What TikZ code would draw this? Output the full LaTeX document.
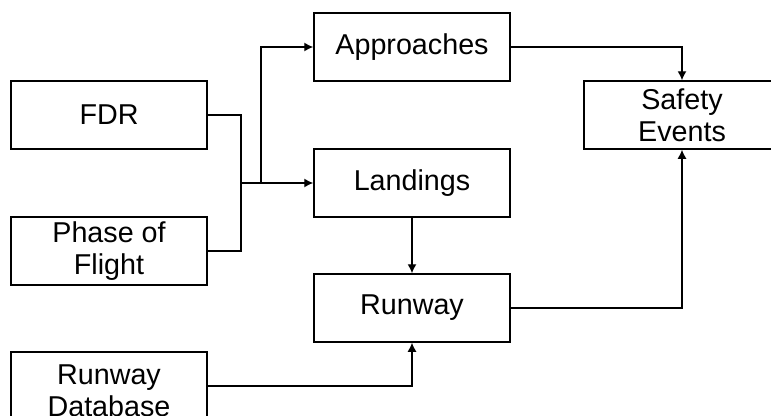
\documentclass[tikz,border=0pt]{standalone}
\usepackage{fontspec}
\setmainfont{Liberation Sans}
\usepackage{tikz}
\usetikzlibrary{arrows.meta}

\tikzset{
	block/.style={draw, line width=1.5pt, minimum width=196pt, minimum height=68pt, align=center, inner sep=0pt, font=\fontsize{28.7}{32}\selectfont},
	wire/.style={line width=1.3pt},
	feed/.style={wire, -{Latex[length=9pt, width=9pt]}}
}

\begin{document}
\begin{tikzpicture}[x=1pt, y=-1pt]
		\useasboundingbox (0, 0) rectangle (771, 415);
		% Boxes:
		\node[block](fdr) at (109, 115){FDR};
		\node[block](phase) at (109, 251){Phase of\\Flight};
		\node[block, minimum height=78pt](rwydb) at (109, 391){Runway\\Database};
		\node[block](appr) at (412, 47){Approaches};
		\node[block](land) at (412, 183){Landings};
		\node[block](rwy) at (412, 308){Runway};
		\node[block](safety) at (682, 115){Safety\\Events};
		% Joints:
		\coordinate (joint) at (241, 183);
		\coordinate (split) at (261, 183);
		% Connectors:
		\draw[wire] (fdr.east) -| (joint) |- (phase.east);
		\draw[feed] (joint) -- (land.west);
		\draw[feed] (split) |- (appr.west);
		\draw[feed] (appr.east) -| (safety.north);
		\draw[feed] (land.south) -- (rwy.north);
		\draw[feed] (rwydb.east |- 0, 386) -| (rwy.south);
		\draw[feed] (rwy.east) -| (safety.south);
	\end{tikzpicture}
\end{document}
